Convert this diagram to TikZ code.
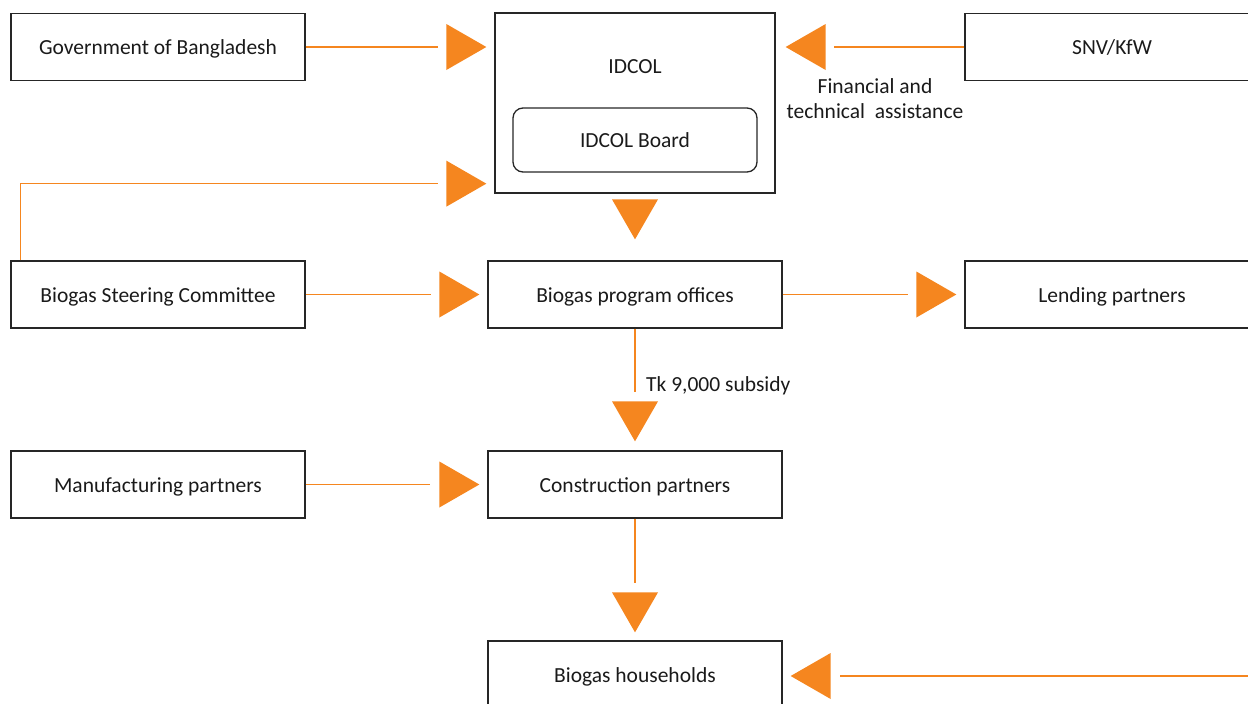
\documentclass[tikz,border=0pt]{standalone}
\usepackage{fontspec}
\setmainfont{Carlito}
\usetikzlibrary{arrows.meta,calc,decorations.markings}
\definecolor{org}{HTML}{F5861F}
\definecolor{boxline}{HTML}{262626}
\definecolor{txt}{HTML}{1A1A1A}
\tikzset{
  box/.style={draw=boxline, line width=1.3pt, minimum width=294pt, minimum height=67pt, inner sep=0pt, text=txt, text height=17pt, text depth=2pt, font=\fontsize{21.5}{25.3}\selectfont},
  lbl/.style={text=txt, inner sep=0pt, text height=17pt, text depth=2pt, font=\fontsize{21.5}{25.3}\selectfont},
  mlbl/.style={text=txt, inner sep=0pt, font=\fontsize{21.5}{25.3}\selectfont},
  tipat/.style={postaction={decorate, decoration={markings,
      mark=at position -#1 with {\fill[org] (0pt,0pt) -- (-40pt,23pt) -- (-40pt,-23pt) -- cycle;}}}},
  conn/.style args={#1/#2}{draw=org, line width=1.5pt, shorten >=#2, tipat=#1},
}
\begin{document}
\begin{tikzpicture}[x=1pt,y=-1pt]
\useasboundingbox (0,0) rectangle (1248,704);
% boxes
\node[box] (gov) at (158,47) {Government of Bangladesh};
\node[box, minimum width=280pt, minimum height=180pt] (idcol) at (635,103) {};
\node[lbl] (idcoltitle) at (635,66) {IDCOL};
\node[box, minimum width=244pt, minimum height=64pt, rounded corners=10pt] (board) at (635,140) {IDCOL Board};
\node[box] (snv) at (1112,47) {SNV/KfW};
\node[box] (steer) at (158,294.5) {Biogas Steering Committee};
\node[box] (prog) at (635,294.5) {Biogas program offices};
\node[box] (lend) at (1112,294.5) {Lending partners};
\node[box] (manuf) at (158,484.5) {Manufacturing partners};
\node[box] (constr) at (635,484.5) {Construction partners};
\node[box] (house) at (635,674.5) {Biogas households};
% labels
\node[mlbl, align=center] (fin) at (875,98.5) {Financial and\\technical~ assistance};
\node[lbl, anchor=west] (tk) at (646,384) {Tk 9,000 subsidy};
% connectors
\draw[conn=8pt/56pt] (gov.east) -- (gov.east -| idcol.west);
\draw[conn=10pt/58pt] (snv.west) -- (snv.west -| idcol.east);
\draw[conn=8pt/56pt] ([xshift=10pt]steer.north west) |- ([yshift=10pt]idcol.south west);
\path[tipat=21pt] (idcol.south) -- (prog.north);
\draw[conn=8pt/56pt] (steer.east) -- (prog.west);
\draw[conn=8pt/56pt] (prog.east) -- (lend.west);
\draw[conn=9pt/58pt] (prog.south) -- (constr.north);
\draw[conn=8pt/57pt] (manuf.east) -- (constr.west);
\draw[conn=8pt/57pt] (constr.south) -- (house.north);
\coordinate (hr) at (1250,676);
\draw[conn=8pt/57pt] (hr) -- (hr -| house.east);
\end{tikzpicture}
\end{document}
